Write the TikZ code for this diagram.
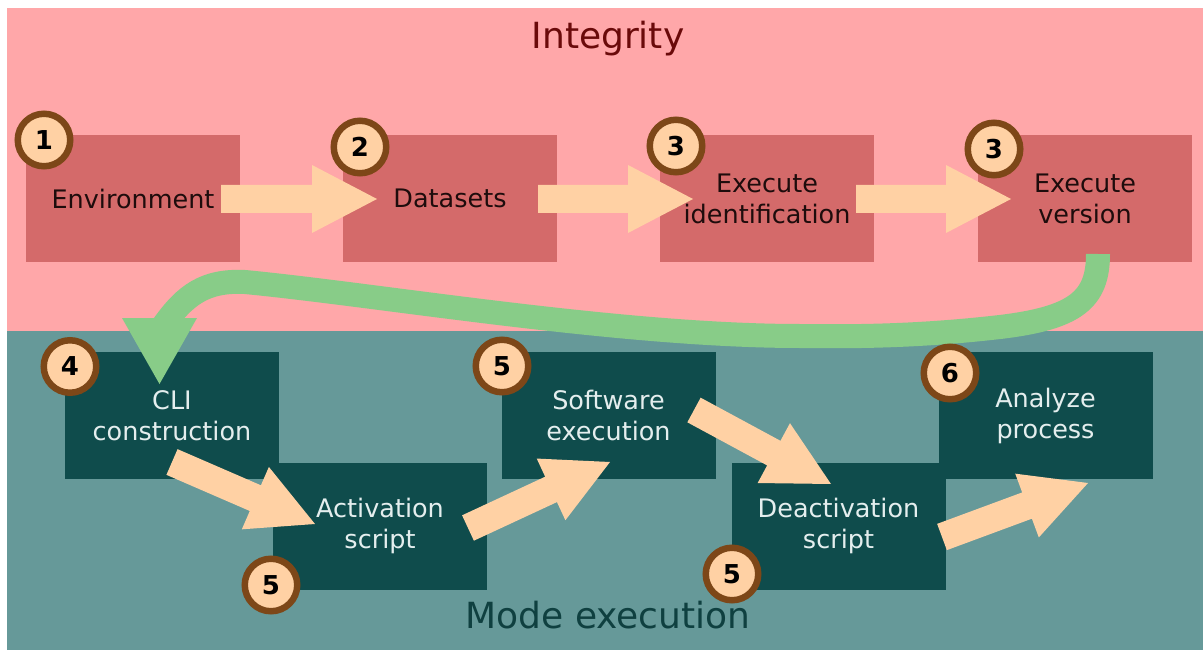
\documentclass[tikz,border=0pt]{standalone}
\usepackage{fontspec}
\setmainfont{DejaVu Sans}
\usetikzlibrary{calc}

\definecolor{bgpink}{HTML}{FFA7A9}
\definecolor{bgteal}{HTML}{669999}
\definecolor{boxred}{HTML}{D46A6A}
\definecolor{boxteal}{HTML}{0F4C4C}
\definecolor{peach}{HTML}{FFD1A4}
\definecolor{flowgreen}{HTML}{88CC88}
\definecolor{ringbrown}{HTML}{7D4718}
\definecolor{txtdark}{HTML}{1E0C0C}
\definecolor{txtlight}{HTML}{E4EEEE}
\definecolor{titlered}{HTML}{6A0A0A}
\definecolor{titleteal}{HTML}{0F4040}

\newcommand\boxfont{\fontsize{25.5}{31}\selectfont}
\newcommand\titlefont{\fontsize{36}{40}\selectfont}
\newcommand\badgefont{\fontsize{26}{28}\selectfont\bfseries}

% block arrow from #1 to #2: shaft 28, head 65 long and 68 wide
\newcommand\blockarrow[2]{%
  \fill[peach] let \p1=(#1), \p2=(#2),
    \n1={atan2(\y2-\y1,\x2-\x1)}, \n2={veclen(\x2-\x1,\y2-\y1)} in
    [shift={(\p1)}, rotate=\n1]
    (0,-14) -- ({\n2-65},-14) -- ({\n2-65},-34) -- (\n2,0)
    -- ({\n2-65},34) -- ({\n2-65},14) -- (0,14) -- cycle;}

\tikzset{
  basebox/.style={rectangle, minimum width=214pt, minimum height=127pt,
    inner sep=0pt, align=center, font=\boxfont},
  topbox/.style={basebox, fill=boxred, text=txtdark},
  lowbox/.style={basebox, fill=boxteal, text=txtlight},
  badge/.style={circle, fill=peach, draw=ringbrown, line width=6.5pt,
    minimum size=52.5pt, inner sep=0pt, font=\badgefont, text=black},
  band/.style={draw=flowgreen, line width=24pt},
  title/.style={font=\titlefont, anchor=base, inner sep=0pt},
}

\begin{document}
\begin{tikzpicture}[x=1pt, y=-1pt]
\useasboundingbox (0,0) rectangle (1203,650);

% two bands
\fill[white] (0,0) rectangle (1203,650);
\fill[bgpink] (7,8) rectangle (1203,331);
\fill[bgteal] (7,331) rectangle (1203,650);

\node[title, text=titlered] (integrity) at (608,49) {Integrity};
\node[title, text=titleteal] (modeexec) at (608,628) {Mode execution};

% integrity steps
\node[topbox] (env) at (133,198.5) {Environment};
\node[topbox] (data) at (450,198.5) {Datasets};
\node[topbox] (exid) at (767,198.5) {Execute\\identification};
\node[topbox] (exver) at (1085,198.5) {Execute\\version};

\coordinate (a1s) at (221,199); \coordinate (a1e) at (377,199);
\coordinate (a2s) at (538,199); \coordinate (a2e) at (693,199);
\coordinate (a3s) at (856,199); \coordinate (a3e) at (1011,199);
\blockarrow{a1s}{a1e}
\blockarrow{a2s}{a2e}
\blockarrow{a3s}{a3e}

% execution steps
\node[lowbox] (cli) at (172,415.5) {CLI\\construction};
\node[lowbox] (act) at (380,526) {Activation\\script};
\node[lowbox] (soft) at (608.5,415.5) {Software\\execution};
\node[lowbox] (deact) at (838.5,526) {Deactivation\\script};
\node[lowbox] (anal) at (1045.5,415.5) {Analyze\\process};

% hand-over from integrity to execution
\coordinate (gs) at (1098,254);
\coordinate (ge) at (163,326);
\draw[band] (gs) .. controls (1098,300) and (1075,318) .. (1000,327)
  .. controls (930,335) and (870,337) .. (800,336)
  .. controls (620,336) and (380,295) .. (245,282)
  .. controls (205,280) and (185,295) .. (ge);
\coordinate (gh) at (159.5,384);
\fill[flowgreen] (122,318) -- (197,318) -- (gh) -- cycle;

\coordinate (b1s) at (172,462); \coordinate (b1e) at (315,524);
\coordinate (b2s) at (468,528); \coordinate (b2e) at (610,462);
\coordinate (b3s) at (694,410); \coordinate (b3e) at (831,484);
\coordinate (b4s) at (942,537); \coordinate (b4e) at (1088,483);
\blockarrow{b1s}{b1e}
\blockarrow{b2s}{b2e}
\blockarrow{b3s}{b3e}
\blockarrow{b4s}{b4e}

% step numbers
\node[badge] (n1) at (44,140) {1};
\node[badge] (n2) at (360,147) {2};
\node[badge] (n3a) at (676,146) {3};
\node[badge] (n3b) at (994,149) {3};
\node[badge] (n4) at (70,366.5) {4};
\node[badge] (n5a) at (502,366) {5};
\node[badge] (n5b) at (271,585) {5};
\node[badge] (n5c) at (732,574) {5};
\node[badge] (n6) at (950,373) {6};
\end{tikzpicture}
\end{document}
